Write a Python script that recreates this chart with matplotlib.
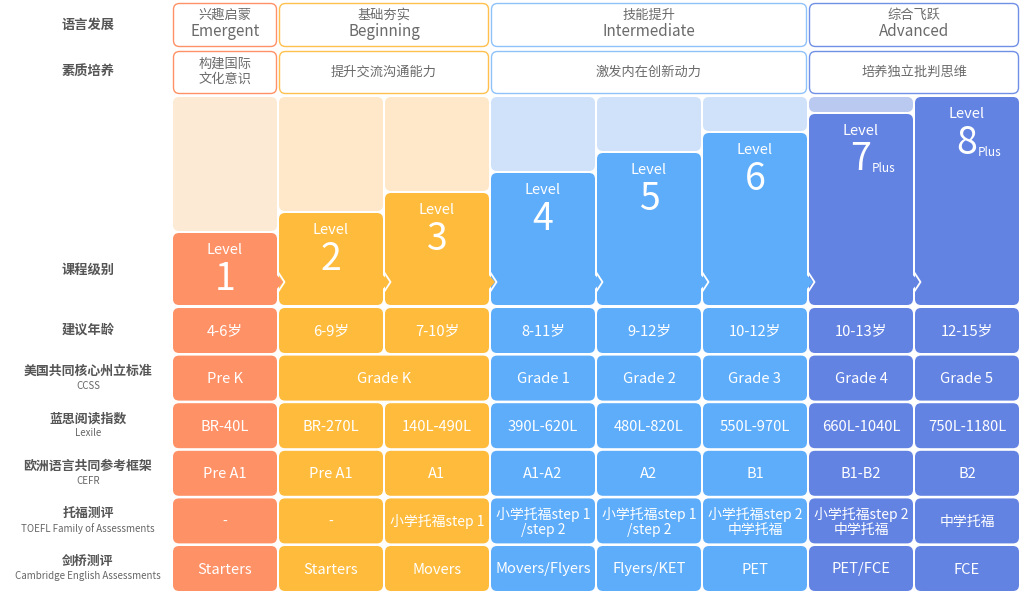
import matplotlib.pyplot as plt
from matplotlib.patches import FancyBboxPatch, Polygon

plt.rcParams['font.family'] = ['Noto Sans CJK SC', 'DejaVu Sans']

# 数据
levels = ['1', '2', '3', '4', '5', '6', '7', '8']
plus = ['', '', '', '', '', '', 'Plus', 'Plus']
bar_height = [72, 92, 112, 132, 152, 172, 191, 208]   # 级别柱高度
bg_height = [208, 208, 208, 208, 208, 208, 208, 0]

stages = [('兴趣启蒙', 'Emergent', 1), ('基础夯实', 'Beginning', 2),
          ('技能提升', 'Intermediate', 3), ('综合飞跃', 'Advanced', 2)]
qualities = [('构建国际\n文化意识', 1), ('提升交流沟通能力', 2),
             ('激发内在创新动力', 3), ('培养独立批判思维', 2)]

ages = ['4-6岁', '6-9岁', '7-10岁', '8-11岁', '9-12岁', '10-12岁', '10-13岁', '12-15岁']
ccss = [('Pre K', 1), ('Grade K', 2), ('Grade 1', 1), ('Grade 2', 1),
        ('Grade 3', 1), ('Grade 4', 1), ('Grade 5', 1)]
lexile = ['BR-40L', 'BR-270L', '140L-490L', '390L-620L', '480L-820L',
          '550L-970L', '660L-1040L', '750L-1180L']
cefr = ['Pre A1', 'Pre A1', 'A1', 'A1-A2', 'A2', 'B1', 'B1-B2', 'B2']
toefl = ['-', '-', '小学托福step 1', '小学托福step 1\n/step 2', '小学托福step 1\n/step 2',
         '小学托福step 2\n中学托福', '小学托福step 2\n中学托福', '中学托福']
cambridge = ['Starters', 'Starters', 'Movers', 'Movers/Flyers', 'Flyers/KET',
             'PET', 'PET/FCE', 'FCE']

row_labels = [('语言发展', ''), ('素质培养', ''), ('课程级别', ''), ('建议年龄', ''),
              ('美国共同核心州立标准', 'CCSS'), ('蓝思阅读指数', 'Lexile'),
              ('欧洲语言共同参考框架', 'CEFR'), ('托福测评', 'TOEFL Family of Assessments'),
              ('剑桥测评', 'Cambridge English Assessments')]

# 样式
col_color = ['#FF9166', '#FFBC3C', '#FFBC3C', '#5EADFB', '#5EADFB', '#5EADFB', '#6383E3', '#6383E3']
bg_color = ['#FCEAD5', '#FFE8C9', '#FFE8C9', '#CFE2FA', '#CFE2FA', '#CFE2FA', '#B9C9F0', '#FFFFFF']
stage_edge = ['#FF9166', '#FFC04D', '#8EC2F9', '#7090E6']
row_fontsize = [10.6, 10.6, 10.6, 10.6, 10, 10.6]

x0, cw, gap = 173, 104, 2
pitch = cw + gap

fig = plt.figure(figsize=(10.27, 5.94), dpi=100)
ax = fig.add_axes([0, 0, 1, 1])
ax.set_xlim(0, 1027)
ax.set_ylim(594, 0)
ax.axis('off')


def box(x, y, w, h, fc, ec='none', lw=0, r=6):
    ax.add_patch(FancyBboxPatch((x, y), w, h, boxstyle=f'round,pad=0,rounding_size={r}',
                                fc=fc, ec=ec, lw=lw))


def col_x(i):
    return x0 + i * pitch


def span_w(n):
    return n * cw + (n - 1) * gap


# 左侧标签
label_y = [25, 72, 270] + [330 + 47.6 * k for k in range(6)]
for (cn, en), y in zip(row_labels, label_y):
    if en:
        ax.text(88, y - 7, cn, ha='center', va='center', fontsize=9.3, fontweight='bold', color='#555555')
        ax.text(88, y + 8, en, ha='center', va='center', fontsize=7, color='#666666')
    else:
        ax.text(88, y, cn, ha='center', va='center', fontsize=9.5, fontweight='bold', color='#555555')

# 语言发展 / 素质培养
i = 0
for k, (cn, en, n) in enumerate(stages):
    box(col_x(i) + 0.5, 3.5, span_w(n) - 1, 43, '#FFFFFF', stage_edge[k], 1.0)
    cx = col_x(i) + span_w(n) / 2
    ax.text(cx, 15, cn, ha='center', va='center', fontsize=9.5, color='#6A6A6A')
    ax.text(cx, 32, en, ha='center', va='center', fontsize=11, color='#6A6A6A')
    i += n
i = 0
for k, (cn, n) in enumerate(qualities):
    box(col_x(i) + 0.5, 51.5, span_w(n) - 1, 42, '#FFFFFF', stage_edge[k], 1.0)
    cx = col_x(i) + span_w(n) / 2
    ax.text(cx, 72, cn, ha='center', va='center', fontsize=9.5, color='#6A6A6A', linespacing=1.2)
    i += n

# 课程级别
base = 305
for j in range(8):
    x = col_x(j)
    top = base - bar_height[j]
    if bg_height[j] > 0:
        box(x, base - bg_height[j], cw, bg_height[j] - bar_height[j] - 2, bg_color[j])
    box(x, top, cw, bar_height[j], col_color[j])
    cx = x + cw / 2
    ax.text(cx, top + 17, 'Level', ha='center', va='center', fontsize=10.5, color='white')
    ax.text(cx, top + 46, levels[j], ha='center', va='center', fontsize=27, color='white')
    if plus[j]:
        ax.text(cx + 11, top + 55, plus[j], ha='left', va='center', fontsize=8.5, color='white')

# 柱之间的箭头
for j in range(7):
    xr = col_x(j) + cw
    yc = 282
    ax.add_patch(Polygon([(xr - 2, yc - 9), (xr + 6, yc), (xr - 2, yc + 9)],
                         closed=True, fc=col_color[j], ec='none'))
    ax.plot([xr + 1, xr + 7.5, xr + 1], [yc - 10, yc, yc + 10], color='white', lw=1.3,
            solid_capstyle='round')

# 表格行
def expand(row):
    if isinstance(row[0], tuple):
        return row
    return [(t, 1) for t in row]


rows = [ages, ccss, lexile, cefr, toefl, cambridge]
for r, row in enumerate(rows):
    y = 308 + 47.6 * r
    i = 0
    for text, n in expand(row):
        box(col_x(i), y, span_w(n), 45, col_color[i])
        ax.text(col_x(i) + span_w(n) / 2, y + 23.5, text, ha='center', va='center',
                fontsize=row_fontsize[r], color='white', linespacing=1.15)
        i += n

fig.savefig('out.png', dpi=100, facecolor='white')
